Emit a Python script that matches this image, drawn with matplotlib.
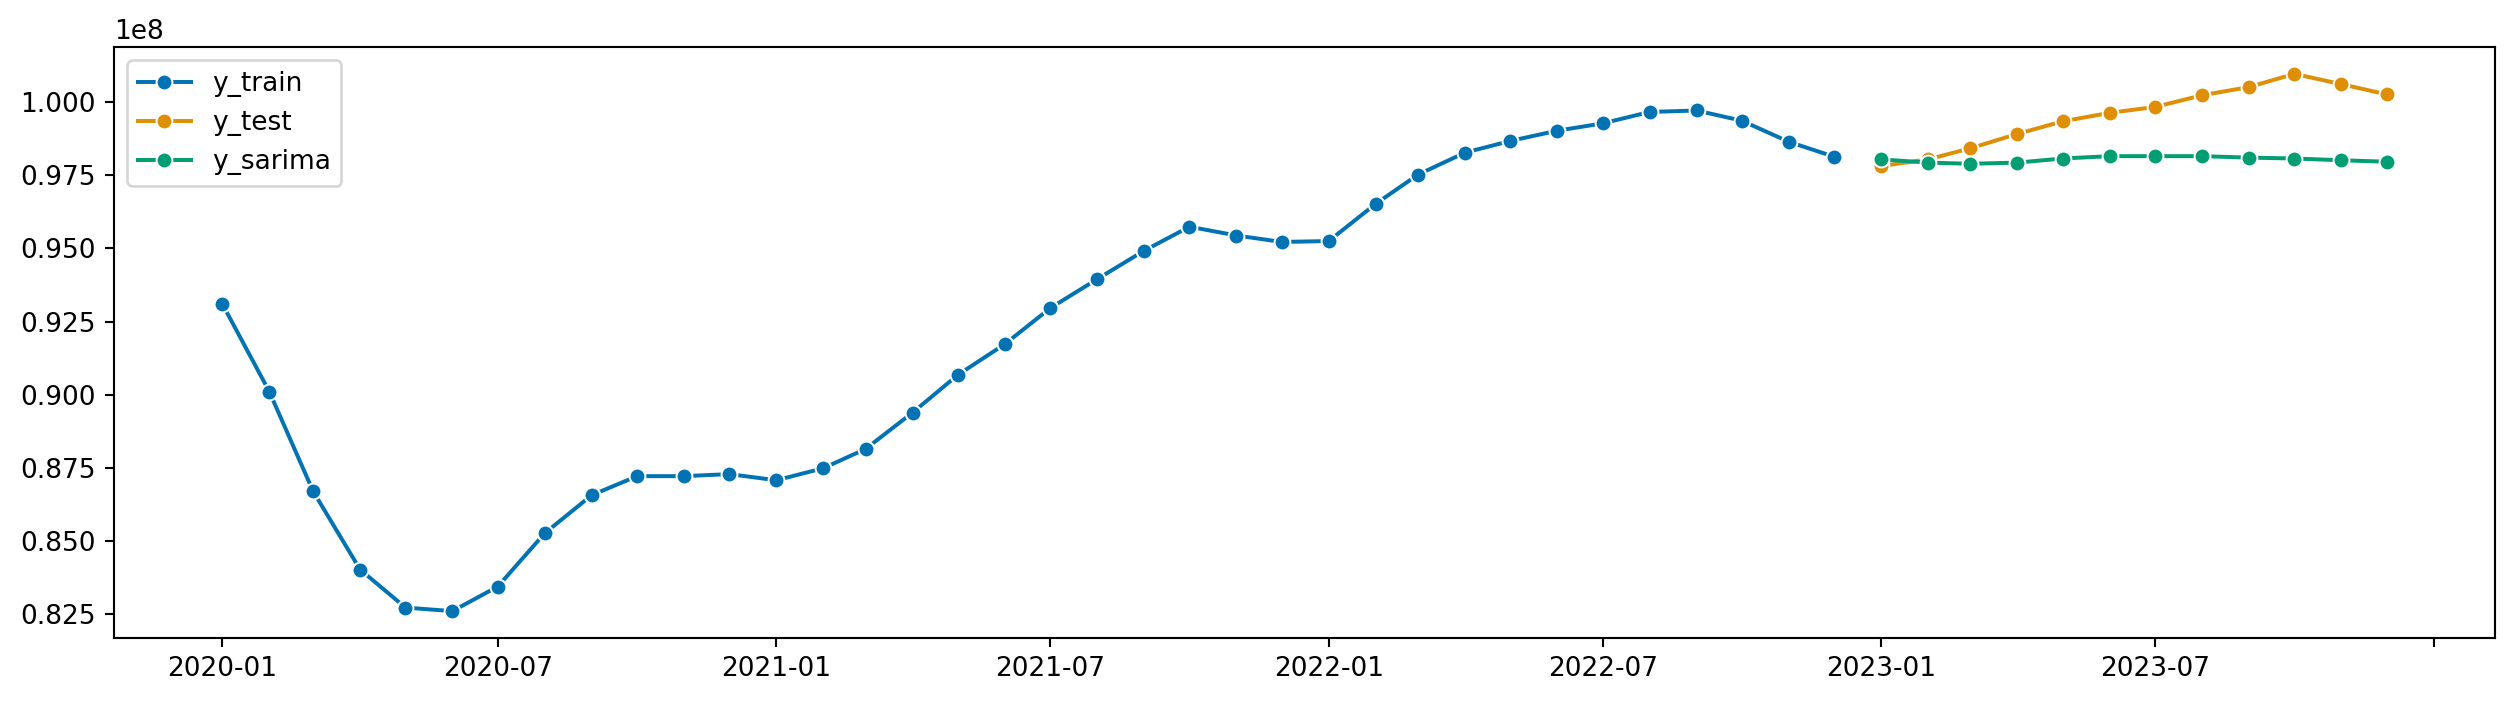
import numpy as np
import pandas as pd
import matplotlib
matplotlib.use("Agg")
import matplotlib.pyplot as plt
import matplotlib.dates as mdates

# monthly values (units of 1e8)
train_dates = pd.date_range("2020-01-01", "2022-12-01", freq="MS")
y_train = [0.9310, 0.9011, 0.8670, 0.8403, 0.8273, 0.8261, 0.8345, 0.8527,
           0.8657, 0.8722, 0.8722, 0.8729, 0.8708, 0.8749, 0.8815, 0.8939,
           0.9068, 0.9173, 0.9296, 0.9395, 0.9492, 0.9574, 0.9544, 0.9522,
           0.9525, 0.9652, 0.9752, 0.9827, 0.9867, 0.9902, 0.9927, 0.9966,
           0.9971, 0.9936, 0.9864, 0.9813]

test_dates = pd.date_range("2023-01-01", "2023-12-01", freq="MS")
y_test = [0.9781, 0.9804, 0.9842, 0.9891, 0.9934, 0.9963, 0.9983, 1.0023,
          1.0051, 1.0096, 1.0061, 1.0026]
y_sarima = [0.9804, 0.9793, 0.9789, 0.9793, 0.9807, 0.9815, 0.9815, 0.9815,
            0.9810, 0.9807, 0.9801, 0.9796]

tick_dates = pd.date_range("2020-01-01", "2024-01-01", freq="6MS")
tick_labels = ["2020-01", "2020-07", "2021-01", "2021-07", "2022-01",
               "2022-07", "2023-01", "2023-07", ""]

colors = ["#0173b2", "#de8f05", "#029e73"]

fig = plt.figure(figsize=(2514/190, 702/190), dpi=190)
ax = fig.add_axes([0.0454, 0.0912, 0.9470, 0.8418])

series = [(train_dates, y_train, "y_train"),
          (test_dates, y_test, "y_test"),
          (test_dates, y_sarima, "y_sarima")]
for (d, v, name), c in zip(series, colors):
    ax.plot(d, np.array(v)*1e8, color=c, lw=1.5, marker="o", markersize=6,
            markeredgecolor="white", markeredgewidth=0.75, label=name)

ax.set_xticks(tick_dates)
ax.set_xticklabels(tick_labels)
ax.legend(loc="upper left")

fig.savefig("out.png", dpi=190)
